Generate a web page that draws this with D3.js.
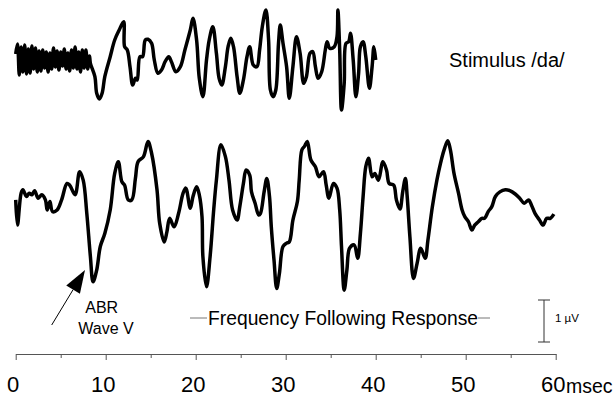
<!DOCTYPE html>
<html>
    <head>
        <script src="https://d3js.org/d3.v7.min.js"></script>
        <style type="text/css">
            html, body {
                margin: 0;
                padding: 0;
                background: #fff;
            }
            svg {
                display: block;
                font-family: "Liberation Sans", Arial, sans-serif;
            }
        </style>
    </head>
    <body>
        <div id="chart"></div>
        <script>
            // time axis in msec
            var majorTicks = [0, 10, 20, 30, 40, 50, 60];
            var minorTicks = [5, 15, 25, 35, 45, 55];

            // stimulus /da/, onset burst [msec, arbitrary units]
            var stimBurst = [[0,0.6],[0.2,1.6],[0.4,-1.5],[0.6,1.3],[0.8,-1.2],[1.0,1.5],[1.2,-1.4],[1.4,1.1],
                [1.6,-1.3],[1.8,1.4],[2.0,-0.9],[2.2,1.2],[2.4,-1.2],[2.6,0.9],[2.8,-1.1],[3.0,1.0],[3.2,-0.8],
                [3.4,0.8],[3.6,-1.2],[3.8,0.7],[4.0,-0.9],[4.2,1.2],[4.4,-0.7],[4.6,0.9],[4.8,-1.0],[5.0,0.8],
                [5.2,-0.6],[5.4,1.1],[5.6,-0.9],[5.8,0.7],[6.0,-1.1],[6.2,1.0],[6.4,-0.8],[6.6,1.3],[6.8,-0.9],
                [7.0,0.8],[7.2,-1.2],[7.4,1.0],[7.6,-0.8],[7.8,1.0],[8.0,-0.9],[8.2,0.4]];

            // stimulus /da/, voiced part
            var stimVoiced = [[8.3,-0.33],[8.8,-1.67],[9.0,-3.33],[9.3,-3.9],[9.6,-3.33],[9.9,-1.67],[10.5,0.33],
                [11.0,2.0],[11.5,3.0],[12.0,3.83],[12.1,1.33],[12.4,1.0],[12.7,-0.67],[13.0,-2.5],[13.3,-1.83],
                [13.5,-2.0],[13.8,0.33],[14.1,0.33],[14.4,2.0],[14.7,2.07],[15.1,1.67],[15.4,0],[15.8,-1.33],
                [16.2,-1.0],[16.6,-0.17],[17.0,0.33],[17.3,-0.17],[17.8,-1.17],[18.3,-0.67],[18.8,1.0],[19.4,3.0],
                [19.7,4.17],[20.1,2.0],[20.4,-1.83],[20.8,-3.67],[21.2,0],[21.5,2.0],[21.9,3.33],[22.3,0.67],
                [22.6,-1.83],[22.9,-2.5],[23.3,-0.67],[23.6,1.33],[23.9,2.17],[24.2,1.33],[24.6,-1.67],[24.9,-3.33],
                [25.3,-2.0],[25.7,0.33],[26.0,1.33],[26.4,-0.5],[26.8,-0.67],[27.1,1.0],[27.4,3.33],[27.8,5.0],
                [28.1,2.0],[28.3,-3.0],[28.6,-3.67],[28.9,-3.0],[29.2,1.67],[29.4,3.5],[29.7,1.67],[30.1,-0.67],
                [30.4,-3.83],[30.8,-0.67],[31.2,2.33],[31.6,0.67],[32.0,-2.33],[32.3,-1.67],[32.7,0.67],[33.0,0.83],
                [33.3,-0.67],[33.6,-1.83],[34.0,-1.17],[34.4,1.0],[34.6,1.83],[34.9,1.17],[35.4,1.33],[35.7,2.33],
                [35.8,5.0],[36.0,1.0],[36.2,-5.0],[36.5,-2.33],[36.7,1.67],[37.0,1.83],[37.2,2.67],[37.5,0],
                [37.8,-3.67],[38.1,-1.33],[38.3,1.33],[38.6,1.83],[38.9,0.33],[39.3,-2.83],[39.6,-0.67],[39.8,1.33],
                [40.0,0]];

            // brainstem response [msec, microvolts]
            var response = [[0.0,0.36],[0.2,-0.24],[0.6,0.52],[0.8,0.60],[1.2,0.44],[1.5,0.52],[1.8,0.48],[2.1,0.58],
                [2.5,0.40],[2.9,0.48],[3.3,0.36],[3.5,0.12],[3.8,0.32],[4.1,0.08],[4.6,0.12],[5.1,0.36],[5.7,0.75],
                [6.0,0.71],[6.6,0.48],[7.1,1.03],[7.5,0.83],[7.9,0.04],[8.3,-0.99],[8.6,-1.59],[9.0,-1.31],[9.4,-0.75],
                [9.9,-0.44],[10.5,0.12],[11.0,0.99],[11.4,1.27],[11.8,0.79],[12.1,0.71],[12.5,0.36],[12.9,0.36],
                [13.3,0.87],[13.6,1.27],[14.2,1.39],[14.7,1.75],[15.1,1.47],[15.7,0.60],[16.0,-0.20],[16.5,-0.64],
                [16.8,-0.40],[17.1,-0.08],[17.6,-0.28],[18.1,0.04],[18.6,0.52],[18.9,0.64],[19.4,0.16],[19.7,0.44],
                [20.1,0.67],[20.4,0.48],[20.7,-0.04],[20.8,-0.99],[21.2,-1.71],[21.6,-0.99],[22.0,0.12],[22.3,0.83],
                [22.8,1.67],[23.3,1.39],[23.7,0.83],[24.1,0.12],[24.6,-0.12],[24.9,0.20],[25.3,0.75],[25.6,1.07],
                [26.0,0.95],[26.2,0.55],[26.6,0.28],[27.0,0.0],[27.2,0.04],[27.6,0.55],[27.9,0.87],[28.2,0.44],
                [28.4,-0.28],[28.7,-1.07],[29.0,-1.75],[29.3,-1.39],[29.7,-0.75],[30.1,-0.67],[30.4,-0.64],[30.8,-0.12],
                [31.3,0.32],[31.5,0.83],[31.8,1.55],[32.1,1.64],[32.4,1.75],[32.8,1.31],[33.3,1.15],[33.7,0.91],
                [34.2,1.03],[34.5,0.71],[34.8,0.40],[35.3,0.75],[35.7,0.64],[36.0,0.12],[36.2,-0.75],[36.5,-1.79],
                [36.8,-1.31],[37.1,-0.79],[37.6,-0.71],[38.0,-1.03],[38.3,-0.44],[38.6,0.44],[38.9,1.15],[39.2,1.35],
                [39.6,0.91],[39.9,0.99],[40.3,0.83],[40.8,1.27],[41.2,1.07],[41.5,0.75],[42.0,0.71],[42.3,0.36],
                [42.7,0.14],[43.0,0.55],[43.3,0.87],[43.5,0.44],[43.8,-0.52],[44.2,-1.51],[44.6,-1.15],[45.0,-0.79],
                [45.5,-1.03],[45.8,-0.60],[46.3,0.20],[46.8,0.83],[47.2,1.23],[47.6,1.55],[48.0,1.77],[48.3,1.55],
                [48.7,0.99],[49.2,0.52],[49.6,0.12],[49.9,-0.04],[50.3,-0.16],[50.7,-0.36],[51.0,-0.24],[51.4,-0.16],
                [51.8,-0.08],[52.1,-0.08],[52.5,0.08],[52.9,0.20],[53.3,0.44],[53.8,0.55],[54.4,0.60],[54.9,0.58],
                [55.5,0.50],[56.0,0.40],[56.5,0.28],[57.0,0.36],[57.3,0.24],[57.7,0.04],[58.2,-0.12],[58.6,-0.24],
                [59.0,-0.08],[59.4,-0.08],[59.8,0.02]];

            var width = 616, height = 401;

            var svg = d3.select('#chart').append('svg')
                .attr('width', width)
                .attr('height', height);

            var x = d3.scaleLinear().domain([0, 60]).range([15.7, 555.7]);
            var yStim = d3.scaleLinear().domain([-5, 5]).range([110, 10]);
            var yResp = d3.scaleLinear().domain([-2, 2]).range([299, 131]);

            var stimLine = d3.line()
                .x(function(d) { return x(d[0]); })
                .y(function(d) { return yStim(d[1]); })
                .curve(d3.curveCatmullRom.alpha(0.5));

            var respLine = d3.line()
                .x(function(d) { return x(d[0]); })
                .y(function(d) { return yResp(d[1]); })
                .curve(d3.curveCatmullRom.alpha(0.5));

            svg.append('path')
                .datum(stimBurst.concat(stimVoiced))
                .attr('d', stimLine)
                .attr('fill', 'none')
                .attr('stroke', '#000')
                .attr('stroke-width', 3.5)
                .attr('stroke-linejoin', 'round');

            svg.append('path')
                .datum(response)
                .attr('d', respLine)
                .attr('fill', 'none')
                .attr('stroke', '#000')
                .attr('stroke-width', 3.5)
                .attr('stroke-linejoin', 'round');

            // time axis
            var axisY = 354;
            var minorAxis = svg.append('g')
                .attr('transform', 'translate(0,' + axisY + ')')
                .call(d3.axisBottom(x).tickValues(minorTicks).tickSize(4).tickSizeOuter(0).tickFormat(''));
            var majorAxis = svg.append('g')
                .attr('transform', 'translate(0,' + axisY + ')')
                .call(d3.axisBottom(x).tickValues(majorTicks).tickSize(6).tickSizeOuter(0).tickPadding(16)
                    .tickFormat(d3.format('d')));
            svg.selectAll('.domain, .tick line')
                .attr('stroke', '#555')
                .attr('stroke-width', 1);
            majorAxis.selectAll('text')
                .attr('dx', -3)
                .attr('fill', '#000')
                .style('font-size', '22px')
                .style('font-family', '"Liberation Sans", Arial, sans-serif');

            svg.append('text')
                .attr('x', 566)
                .attr('y', 393)
                .style('font-size', '19.5px')
                .text('msec');

            // labels
            svg.append('text')
                .attr('x', 449)
                .attr('y', 66.5)
                .style('font-size', '20px')
                .text('Stimulus /da/');

            svg.append('text')
                .attr('x', 208)
                .attr('y', 325)
                .style('font-size', '19.3px')
                .text('Frequency Following Response');
            svg.append('line')
                .attr('x1', 190).attr('x2', 207)
                .attr('y1', 318).attr('y2', 318)
                .attr('stroke', '#777').attr('stroke-width', 1);
            svg.append('line')
                .attr('x1', 478).attr('x2', 490)
                .attr('y1', 318).attr('y2', 318)
                .attr('stroke', '#777').attr('stroke-width', 1);

            // ABR wave V arrow
            var tail = [51.7, 325], tip = [85, 270];
            var dx = tip[0] - tail[0], dy = tip[1] - tail[1];
            var len = Math.sqrt(dx * dx + dy * dy);
            var ux = dx / len, uy = dy / len;
            var headLen = 23, headW = 8;
            var bx = tip[0] - ux * headLen, by = tip[1] - uy * headLen;
            svg.append('line')
                .attr('x1', tail[0]).attr('y1', tail[1])
                .attr('x2', bx).attr('y2', by)
                .attr('stroke', '#000').attr('stroke-width', 1);
            svg.append('polygon')
                .attr('points', [
                    tip,
                    [bx - uy * headW, by + ux * headW],
                    [bx + uy * headW, by - ux * headW]
                ].map(function(p) { return p.join(','); }).join(' '))
                .attr('fill', '#000');

            svg.append('text')
                .attr('x', 101.7)
                .attr('y', 313)
                .attr('text-anchor', 'middle')
                .style('font-size', '16px')
                .text('ABR');
            svg.append('text')
                .attr('x', 106)
                .attr('y', 334)
                .attr('text-anchor', 'middle')
                .style('font-size', '16px')
                .text('Wave V');

            // 1 microvolt calibration bar
            var barX = 544;
            var barTop = 300, barBottom = barTop + (yResp(0) - yResp(1));
            var bar = svg.append('g')
                .attr('stroke', '#333')
                .attr('stroke-width', 1);
            bar.append('line').attr('x1', barX).attr('x2', barX).attr('y1', barTop).attr('y2', barBottom);
            bar.append('line').attr('x1', barX - 6).attr('x2', barX + 6).attr('y1', barTop).attr('y2', barTop);
            bar.append('line').attr('x1', barX - 6).attr('x2', barX + 6).attr('y1', barBottom).attr('y2', barBottom);
            svg.append('text')
                .attr('x', 555)
                .attr('y', 321.5)
                .style('font-size', '11.5px')
                .text('1 \u00b5V');
        </script>
    </body>
</html>
